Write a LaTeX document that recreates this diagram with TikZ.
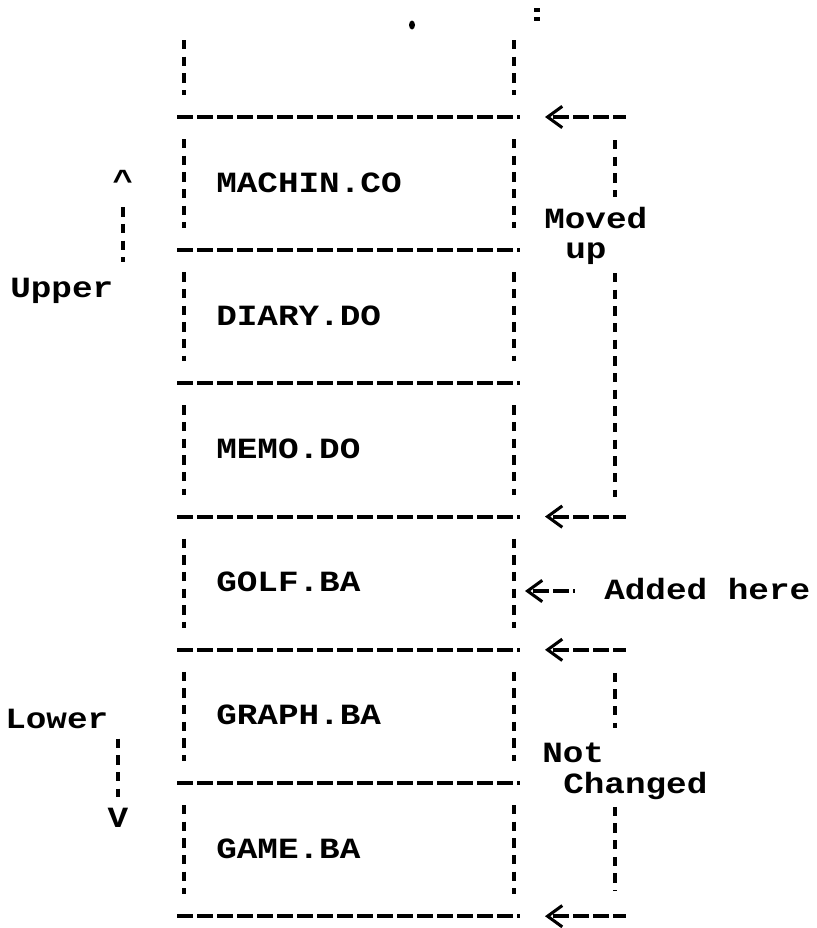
\documentclass[tikz,border=0pt]{standalone}
\usepackage{fontspec}
\newfontfamily\printfont{Liberation Mono}[FakeStretch=1.17]
\usetikzlibrary{arrows.meta,calc}

\begin{document}
\begin{tikzpicture}[x=0.75pt, y=-0.75pt,
    hline/.style={line width=3pt, dash pattern=on 12pt off 3pt},
    vline/.style={line width=2.6pt, dash pattern=on 7pt off 5.5pt},
    txt/.style={font=\printfont\bfseries\fontsize{22}{24}\selectfont, inner sep=0pt, anchor=base west},
    ptr/.style={hline, dash phase=12pt, {Straight Barb[length=11pt, width=16pt, line width=2.3pt]}-}]
  \useasboundingbox (0,0) rectangle (817,928);

  % separators and box sides
  \foreach \k in {0,...,6} {
    \pgfmathsetmacro\yy{117+133.2*\k}
    \draw[hline] (177,\yy) -- (520,\yy);
    \coordinate (s\k) at (545,\yy);
    \coordinate (e\k) at (626,\yy);
  }
  \draw[vline] (184,40) -- (184,95) (514,40) -- (514,95);
  \foreach \k in {0,...,5} {
    \pgfmathsetmacro\ya{139+133.2*\k}
    \pgfmathsetmacro\yb{228.2+133.2*\k}
    \draw[vline] (184,\ya) -- (184,\yb) (514,\ya) -- (514,\yb);
  }

  % file names
  \foreach \name/\file [count=\k from 0] in {machin/MACHIN.CO, diary/DIARY.DO,
      memo/MEMO.DO, golf/GOLF.BA, graph/GRAPH.BA, game/GAME.BA}
    \node[txt] (\name) at (216,{192+133.2*\k}) {\file};

  % pointers at the right
  \foreach \k in {0,3,4,6}
    \draw[ptr] (s\k) -- (e\k);
  \coordinate (rail) at (615,0);
  \node[txt] (moved) at (544,228) {Moved};
  \node[txt] (up) at (565,258) {up};
  \node[txt] (notc) at (542,762) {Not};
  \node[txt] (changed) at (563,793) {Changed};
  \draw[vline] ($(rail |- s0)+(0,23)$) -- ($(rail |- s0)+(0,80)$)
               ($(rail |- s0)+(0,156)$) -- ($(rail |- s3)+(0,-20)$);
  \draw[vline] ($(rail |- s4)+(0,23)$) -- ($(rail |- s4)+(0,78)$)
               ($(rail |- s4)+(0,157)$) -- ($(rail |- s6)+(0,-26)$);
  \node[txt] (added) at (604,599) {Added here};
  \draw[ptr] (added.base west) ++(-79,-8) -- ++(50,0);

  % upper / lower
  \node[txt] (upper) at (10,297) {Upper};
  \node[txt] (lower) at (5,728) {Lower};
  \node[txt, anchor=base] (caret) at (123,190) {\textasciicircum};
  \node[txt, anchor=base] (vee) at (118,827) {V};
  \draw[vline] (caret.south) ++(0,17) -- (123,262);
  \draw[vline] (vee.north |- lower.south) ++(0,10) -- (118,797);

  % marks along the top edge
  \fill (412,25) ellipse [x radius=3, y radius=4.5];
  \draw[line width=2.4pt] (534,10) -- (540,10) (534,19) -- (540,19);
\end{tikzpicture}
\end{document}
